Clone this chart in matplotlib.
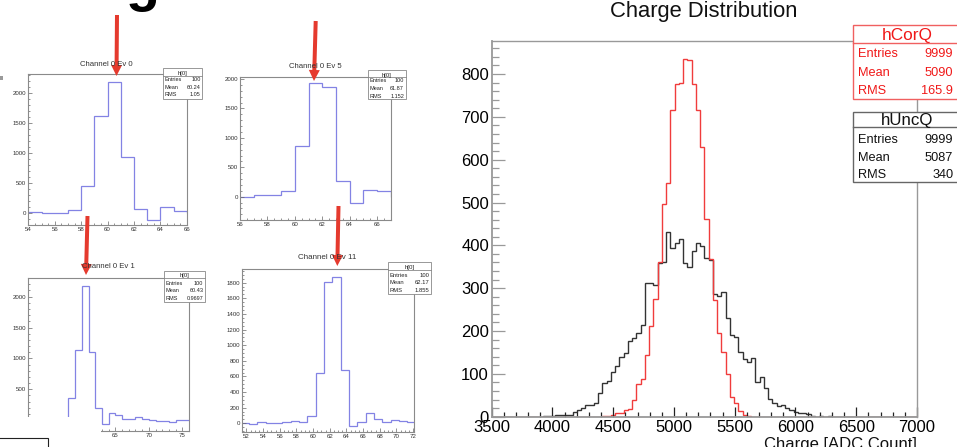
import numpy as np
import matplotlib
matplotlib.use('Agg')
import matplotlib.pyplot as plt
from matplotlib.patches import Rectangle, FancyArrow
from matplotlib.ticker import MultipleLocator

plt.rcParams['font.family'] = ['Liberation Sans', 'DejaVu Sans']

W, H = 957, 447

# ---- big plot: charge distribution, 100 bins of 35 ADC from 3500 to 7000
charge_lo, charge_hi, n_bins = 3500, 7000, 100
cor_first = 26
cor_counts = [1, 1, 4, 8, 8, 16, 17, 39, 76, 87, 143, 212, 275, 362, 496, 545,
              717, 776, 778, 836, 833, 777, 717, 629, 461, 367, 272, 195, 152,
              100, 45, 31, 14, 4, 1]
unc_first = 12
unc_counts = [1, 1, 1, 4, 4, 4, 4, 10, 16, 21, 27, 27, 31, 55, 78, 83, 104, 119,
              139, 148, 177, 184, 195, 213, 311, 311, 307, 358, 360, 432, 393,
              405, 415, 358, 350, 387, 405, 399, 370, 366, 286, 281, 290, 231,
              191, 185, 150, 134, 128, 136, 80, 93, 66, 41, 32, 25, 28, 20, 16,
              10, 8, 9, 6, 2, 0, 1, 0, 1]
cor_stats = [('Entries', '9999'), ('Mean', '5090'), ('RMS', '165.9')]
unc_stats = [('Entries', '9999'), ('Mean', '5087'), ('RMS', '340')]

# ---- small channel histograms
ev0_edges = np.arange(54, 67)
ev0_counts = [10, 0, 0, 40, 452, 1619, 2194, 927, 56, -123, 89, 33]
ev5_edges = np.arange(56, 68)
ev5_counts = [-10, 21, 36, 89, 859, 1937, 1859, 260, -104, 115, 99]
ev1_edges = np.arange(52, 77)
ev1_counts = [0, 0, 0, 0, 0, 0, 355, 1137, 2179, 1099, 193, -61, 112, 85, 20,
              15, 47, 20, 4, -7, -12, -34, 4, 4]
ev11_edges = np.arange(21 + 1) + 51.3
ev11_counts = [9, -9, 21, 9, 4, 17, 34, 13, 98, 648, 1805, 1869, 683, -34, 21,
               128, 51, 17, 43, 26, 13]
small_stats = {
    'Ev 0': [('Entries', '100'), ('Mean', '60.24'), ('RMS', '1.05')],
    'Ev 5': [('Entries', '100'), ('Mean', '61.87'), ('RMS', '1.152')],
    'Ev 1': [('Entries', '100'), ('Mean', '60.43'), ('RMS', '0.9697')],
    'Ev 11': [('Entries', '100'), ('Mean', '62.17'), ('RMS', '1.855')],
}

fig = plt.figure(figsize=(W / 100, H / 100), dpi=100)


def px_axes(l, t, r, b):
    return fig.add_axes([l / W, 1 - b / H, (r - l) / W, (b - t) / H])


RED = '#f03c3c'
FRAME = '#999999'

# ================= big plot
ax = px_axes(491.7, 41, 917, 416.7)
edges = np.linspace(charge_lo, charge_hi, n_bins + 1)
cor = np.zeros(n_bins)
cor[cor_first:cor_first + len(cor_counts)] = cor_counts
unc = np.zeros(n_bins)
unc[unc_first:unc_first + len(unc_counts)] = unc_counts
ax.stairs(unc, edges, color='#333333', lw=1.0)
ax.stairs(cor, edges, color=RED, lw=1.0)
ax.set_xlim(charge_lo, charge_hi)
ax.set_ylim(0, 877)
ax.xaxis.set_major_locator(MultipleLocator(500))
ax.xaxis.set_minor_locator(MultipleLocator(100))
ax.yaxis.set_major_locator(MultipleLocator(100))
ax.yaxis.set_minor_locator(MultipleLocator(20))
for s in ax.spines.values():
    s.set_color(FRAME)
    s.set_linewidth(1.0)
ax.spines['left'].set_linewidth(1.3)
ax.spines['bottom'].set_linewidth(1.3)
ax.tick_params(which='both', direction='in', top=False, right=False,
               labelsize=12, width=0.9)
ax.tick_params(axis='y', which='major', length=9, color=FRAME, pad=2)
ax.tick_params(axis='y', which='minor', length=4.8, color=FRAME)
ax.tick_params(axis='x', which='major', length=7.2, color='#222222', pad=2.5)
ax.tick_params(axis='x', which='minor', length=3.6, color='#222222')

# ================= small panels
BLUE = '#8383e4'


def small_panel(box, edges_, counts, xlim, ylim, xmaj, xmin, ymaj, ymin):
    a = px_axes(*box)
    a.stairs(counts, edges_, color=BLUE, lw=0.9)
    a.set_xlim(*xlim)
    a.set_ylim(*ylim)
    a.xaxis.set_major_locator(MultipleLocator(xmaj))
    a.xaxis.set_minor_locator(MultipleLocator(xmin))
    a.yaxis.set_major_locator(MultipleLocator(ymaj))
    a.yaxis.set_minor_locator(MultipleLocator(ymin))
    for s in a.spines.values():
        s.set_color('#8a8a8a')
        s.set_linewidth(0.8)
    a.tick_params(which='both', direction='in', top=False, right=False,
                  labelsize=4.4, color='#666666', width=0.5, pad=1.5,
                  labelcolor='#333333')
    a.tick_params(which='major', length=2.6)
    a.tick_params(which='minor', length=1.3)
    ylo = a.get_ylim()[0]
    a.set_yticks([t for t in a.get_yticks() if ylo <= t <= ylim[1] and
                  (t > 0 or t == 0 and ylo < -100)])
    return a


small_panel((28.3, 74, 186.7, 225), ev0_edges, ev0_counts, (54, 66),
            (-206, 2323), 2, 0.5, 500, 100)
small_panel((240, 76.7, 390.7, 220), ev5_edges, ev5_counts, (56, 67),
            (-397, 2041), 2, 0.5, 500, 100)
p3 = small_panel((28.3, 278.3, 189, 430.7), ev1_edges, ev1_counts, (52, 76),
                 (-170, 2297), 5, 1, 500, 100)
p3.set_yticks([500, 1000, 1500, 2000])
small_panel((242.3, 269.3, 414, 432.3), ev11_edges, ev11_counts, (51.5, 72.1),
            (-115, 1971), 2, 0.5, 200, 50)

# ================= overlay in pixel coordinates
ov = fig.add_axes([0, 0, 1, 1])
ov.set_xlim(0, W)
ov.set_ylim(H, 0)
ov.axis('off')
ov.set_zorder(20)


def stats_box(x0, y0, x1, y1, sep, name, name_y, rows, rows_y, lx, rx,
              tcolor, ecolor, nsize, rsize, lw):
    ov.add_patch(Rectangle((x0, y0), x1 - x0, y1 - y0, facecolor='white',
                           edgecolor=ecolor, lw=lw, clip_on=False))
    ov.plot([x0, x1], [sep, sep], color=ecolor, lw=lw, clip_on=False)
    ov.text((x0 + x1) / 2, name_y, name, ha='center', va='baseline',
            fontsize=nsize, color=tcolor)
    for (lab, val), yb in zip(rows, rows_y):
        ov.text(lx, yb, lab, ha='left', va='baseline', fontsize=rsize,
                color=tcolor)
        ov.text(rx, yb, val, ha='right', va='baseline', fontsize=rsize,
                color=tcolor)


# big stats boxes
stats_box(852.7, 25, 962, 99.3, 43.3, 'hCorQ', 40, cor_stats,
          [57.3, 76, 94.3], 858.3, 953.3, '#f01818', '#f06060', 12.4, 9.2, 1.0)
stats_box(852.7, 111.7, 962, 181.7, 127.3, 'hUncQ', 125, unc_stats,
          [142.7, 160.7, 177.7], 858.3, 953.3, '#111111', '#666666', 12.2, 9.2, 1.0)

# small stats boxes
stats_box(162.7, 68.3, 202.3, 98.7, 76, 'h[0]', 75, small_stats['Ev 0'],
          [81.3, 88.7, 96.3], 164.3, 200.5, '#222222', '#888888', 4.2, 4.0, 0.6)
stats_box(367.7, 70, 405.7, 99, 77.3, 'h[0]', 76.5, small_stats['Ev 5'],
          [82.5, 90.3, 97.5], 369.3, 404, '#222222', '#888888', 4.2, 4.0, 0.6)
stats_box(164, 271, 205, 301.7, 278.3, 'h[0]', 277.5, small_stats['Ev 1'],
          [284.7, 292.3, 299.7], 165.7, 203.3, '#222222', '#888888', 4.2, 4.0, 0.6)
stats_box(387.7, 261.7, 431, 294, 270, 'h[0]', 269, small_stats['Ev 11'],
          [276.7, 284.3, 291.7], 390, 429.3, '#222222', '#888888', 4.4, 4.2, 0.6)

# titles
ov.text(106.7, 65.7, 'Channel 0 Ev 0', ha='center', va='baseline', fontsize=5.6, color='#333333')
ov.text(315, 67.7, 'Channel 0 Ev 5', ha='center', va='baseline', fontsize=5.6, color='#333333')
ov.text(108, 268.3, 'Channel 0 Ev 1', ha='center', va='baseline', fontsize=5.6, color='#333333')
ov.text(327.5, 259, 'Channel 0 Ev 11', ha='center', va='baseline', fontsize=5.8, color='#333333')
ov.text(703.5, 17.3, 'Charge Distribution', ha='center', va='baseline', fontsize=15.8, color='#111111')
ov.text(917, 448.7, 'Charge [ADC Count]', ha='right', va='baseline', fontsize=12, color='#111111')

# white cover and box at bottom left
ov.add_patch(Rectangle((0, 417), 101, 31, facecolor='white', edgecolor='none'))
ov.add_patch(Rectangle((-3, 438.3), 51.3, 12, facecolor='white', edgecolor='#222222', lw=0.8, clip_on=False))
ov.add_patch(Rectangle((0, 76), 3.3, 4, facecolor='#9a9a9a', edgecolor='none'))

# big cropped letter at the top
ov.text(143, 0, 'g', ha='center', va='baseline', fontsize=40, fontweight='bold', color='black')

# red arrows
for (x0, y0, x1, y1) in [(117, 15, 116.5, 76), (315.7, 21, 314, 81),
                         (87.5, 216, 86, 275), (338.5, 206, 337.3, 266)]:
    ov.add_patch(FancyArrow(x0, y0, x1 - x0, y1 - y0, width=4, head_width=11,
                            head_length=11, length_includes_head=True,
                            color='#e53a2e', lw=0))

fig.savefig('out.png', dpi=100)
